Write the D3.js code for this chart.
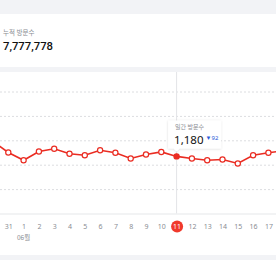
<!DOCTYPE html>
<html><head><meta charset="utf-8">
<script src="https://cdn.jsdelivr.net/npm/d3@7"></script>
<style>
html,body{margin:0;padding:0;background:#f2f3f6;overflow:hidden;}
svg{display:block;font-family:"Noto Sans CJK KR","Noto Sans",sans-serif;}
</style></head>
<body>
<svg id="c" width="276" height="260"></svg>
<script>
const totalLabel = "누적 방문수";
const totalValue = "7,777,778";
const days = ["30","31","1","2","3","4","5","6","7","8","9","10","11","12","13","14","15","16","17","18"];
const visits = [1490,1260,1102,1281,1336,1234,1205,1307,1254,1137,1219,1272,1180,1137,1102,1117,1035,1205,1254,1300];
const monthLabel = "06월";
const monthAt = "1";
const selectedDay = "11";
const tooltipTitle = "일간 방문수";
const tooltipDiff = "▼92";
const gridTicks = [500,1000,1500,2000,2500];

const svg = d3.select("#c");
svg.append("rect").attr("x",0).attr("y",0).attr("width",276).attr("height",260).attr("fill","#f2f3f6");
// card 1
svg.append("rect").attr("x",0).attr("y",14).attr("width",276).attr("height",53).attr("fill","#fff");
svg.append("text").attr("x",3).attr("y",35).attr("font-size",6.5).attr("fill","#8a8d93").text(totalLabel);
svg.append("text").attr("x",3).attr("y",50).attr("font-size",11.3).attr("font-weight",500).attr("fill","#111").attr("font-family","Roboto,'Noto Sans',sans-serif").text(totalValue);
// card 2
svg.append("rect").attr("x",0).attr("y",72).attr("width",276).attr("height",183).attr("fill","#fff");

const x = d3.scalePoint().domain(days).range([-7, -7 + 15.3*(days.length-1)]);
const y = d3.scaleLinear().domain([0,3000]).range([214, 67.6]);

// grid
svg.append("g").selectAll("line").data(gridTicks).join("line")
  .attr("x1",0).attr("x2",276).attr("y1",d=>y(d)).attr("y2",d=>y(d))
  .attr("stroke","#dcdde0").attr("stroke-width",1).attr("stroke-dasharray","2,2");

// crosshair
svg.append("line").attr("x1",x(selectedDay)).attr("x2",x(selectedDay)).attr("y1",72).attr("y2",214)
  .attr("stroke","#e3e4e7").attr("stroke-width",1);

// axis line
svg.append("line").attr("x1",0).attr("x2",276).attr("y1",214).attr("y2",214).attr("stroke","#eeeff1").attr("stroke-width",1.5);

// x axis (only visible days labelled)
const visibleDays = days.filter(d=>x(d)>=0 && x(d)<=276);
const ax = svg.append("g").attr("transform","translate(0,214)")
  .call(d3.axisBottom(x).tickValues(visibleDays).tickSize(0).tickPadding(10));
ax.select(".domain").remove();
ax.selectAll("text").attr("font-size",7).attr("fill","#8a8d93").attr("font-family","'Noto Sans',sans-serif");
ax.selectAll(".tick").filter(d=>d===selectedDay).each(function(){
  const g = d3.select(this);
  g.insert("circle","text").attr("cx",0).attr("cy",12.6).attr("r",6).attr("fill","#f0392b");
  g.select("text").attr("fill","#fff");
});
svg.append("text").attr("x",x(monthAt)).attr("y",239.5).attr("text-anchor","middle").attr("font-size",6.5).attr("fill","#8a8d93").text(monthLabel);

// line
const data = days.map((d,i)=>({d, v:visits[i]}));
svg.append("path").datum(data).attr("fill","none").attr("stroke","#ea2c22").attr("stroke-width",1.6)
  .attr("d", d3.line().x(p=>x(p.d)).y(p=>y(p.v)));
svg.append("g").selectAll("circle").data(data).join("circle")
  .attr("cx",p=>x(p.d)).attr("cy",p=>y(p.v)).attr("r",2.6)
  .attr("fill",p=>p.d===selectedDay?"#ea2c22":"#fff").attr("stroke","#ea2c22").attr("stroke-width",1.2);

// tooltip
const sel = data.find(p=>p.d===selectedDay);
const tx = x(sel.d), ty = y(sel.v);
const tip = svg.append("g");
const defs = svg.append("defs");
const f = defs.append("filter").attr("id","sh").attr("x","-20%").attr("y","-20%").attr("width","140%").attr("height","160%");
f.append("feDropShadow").attr("dx",0).attr("dy",0.5).attr("stdDeviation",1.2).attr("flood-color","#000").attr("flood-opacity",0.15);
const bx = tx-8.5, by = ty-36, bw = 53, bh = 28;
tip.append("path").attr("filter","url(#sh)").attr("fill","#fff")
  .attr("d",`M${bx},${by} h${bw} v${bh} H${tx+3} l-3,3 l-3,-3 H${bx} Z`);
tip.append("text").attr("x",bx+7).attr("y",by+9).attr("font-size",6).attr("fill","#8a8d93").text(tooltipTitle);
tip.append("text").attr("x",bx+6).attr("y",by+23.5).attr("font-size",11.5).attr("fill","#111").attr("font-family","'Liberation Sans Narrow','Noto Sans',sans-serif").text(d3.format(",")(sel.v));
tip.append("text").attr("x",bx+37.5).attr("y",by+19.5).attr("font-size",6).attr("fill","#2b5bd7").attr("font-family","'Noto Sans',sans-serif").text(tooltipDiff);
</script>
</body></html>
